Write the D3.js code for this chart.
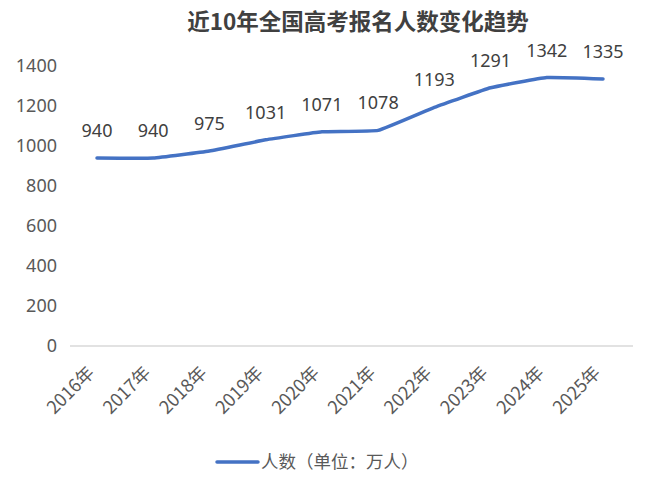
<!DOCTYPE html>
<html><head><meta charset="utf-8">
<script src="https://cdn.jsdelivr.net/npm/d3@7/dist/d3.min.js"></script>
<style>body{margin:0;background:#fff;} text{font-family:"Noto Sans CJK SC","Noto Sans",sans-serif;}</style>
</head><body><svg id="c" width="650" height="480"></svg>
<script>
const years = ["2016年","2017年","2018年","2019年","2020年","2021年","2022年","2023年","2024年","2025年"];
const values = [940,940,975,1031,1071,1078,1193,1291,1342,1335];
const yTicks = [0,200,400,600,800,1000,1200,1400];
const title = "近10年全国高考报名人数变化趋势";
const legendLabel = "人数（单位：万人）";

const svg = d3.select("#c");
const x = d3.scalePoint().domain(years).range([97,603]);
const y = d3.scaleLinear().domain([0,1400]).range([346,66]);

svg.append("text").attr("x",358).attr("y",30).attr("text-anchor","middle")
  .attr("font-size",22.5).attr("font-weight","bold").attr("fill","#404040").text(title);

// y axis labels
const ya = svg.append("g").attr("transform","translate(57,0)")
  .call(d3.axisLeft(y).tickValues(yTicks).tickFormat(d3.format("d")).tickSize(0).tickPadding(0));
ya.select(".domain").remove();
ya.selectAll("text").attr("font-size",18).attr("fill","#595959")
  .style("font-family","'Noto Sans','DejaVu Sans',sans-serif");

// baseline
svg.append("line").attr("x1",70).attr("x2",633).attr("y1",y(0)).attr("y2",y(0))
  .attr("stroke","#d9d9d9").attr("stroke-width",1.5);

// x labels rotated
const xa = svg.append("g").attr("transform",`translate(0,${y(0)})`)
  .call(d3.axisBottom(x).tickSize(0).tickPadding(0));
xa.select(".domain").remove();
xa.selectAll("text").attr("font-size",18).attr("fill","#595959")
  .attr("text-anchor","end").attr("dy",0)
  .style("font-family","'Noto Sans CJK SC','Noto Sans',sans-serif")
  .attr("transform","translate(-2,28) rotate(-45)");

// line
const line = d3.line().x((d,i)=>x(years[i])).y(d=>y(d)).curve(d3.curveCardinal.tension(0.7));
svg.append("path").datum(values).attr("d",line).attr("fill","none")
  .attr("stroke","#4472C4").attr("stroke-width",3.5).attr("stroke-linecap","round");

// data labels
svg.selectAll(".lbl").data(values).enter().append("text")
  .attr("x",(d,i)=>x(years[i])).attr("y",d=>y(d)-21)
  .attr("text-anchor","middle").attr("font-size",18).attr("fill","#404040")
  .style("font-family","'Noto Sans','DejaVu Sans',sans-serif")
  .text(d=>d);

// legend
svg.append("line").attr("x1",217).attr("x2",258).attr("y1",462).attr("y2",462)
  .attr("stroke","#4472C4").attr("stroke-width",3.5).attr("stroke-linecap","round");
svg.append("text").attr("x",261).attr("y",468).attr("font-size",17.5).attr("fill","#595959").text(legendLabel);
</script></body></html>
